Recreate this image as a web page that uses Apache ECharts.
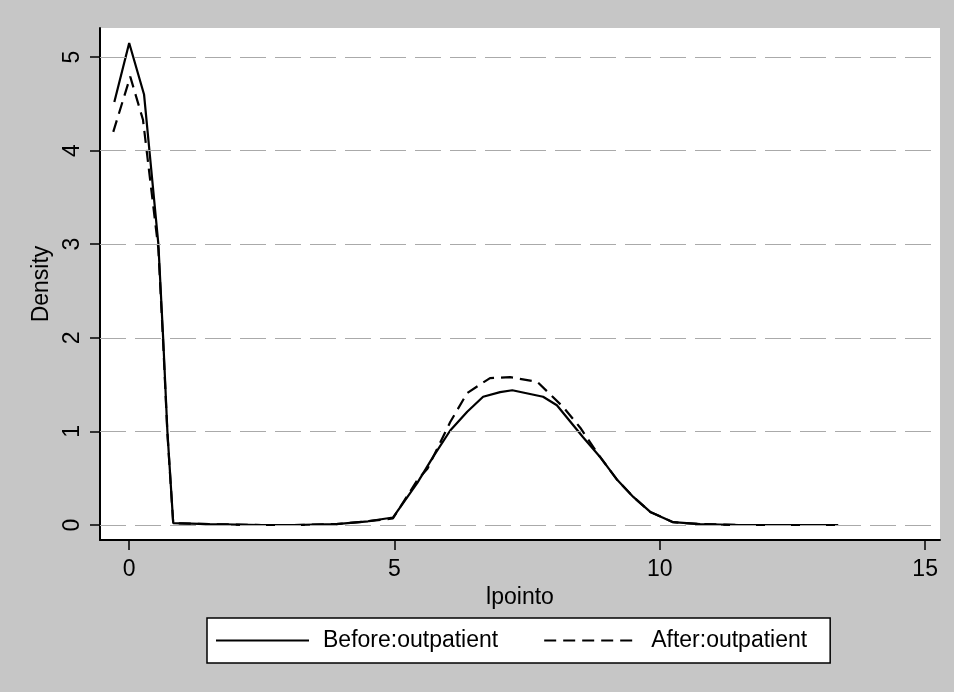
<!DOCTYPE html>
<html>
<head>
<meta charset="utf-8">
<script src="https://cdn.jsdelivr.net/npm/echarts@6/dist/echarts.min.js"></script>
<style>
  html, body { margin: 0; padding: 0; background: #c6c6c6; }
  #chart { width: 954px; height: 692px; }
</style>
</head>
<body>
<div id="chart"></div>
<script>
// density estimates (x = lpointo, y = density)
const beforeX = [-0.28, 0, 0.28, 0.55, 0.64, 0.72, 0.83, 1.5, 2.5, 3.1, 3.9, 4.5, 4.97, 5.43, 5.73, 6.05, 6.37, 6.67, 6.99, 7.22, 7.8, 8.06, 8.55, 8.87, 9.2, 9.5, 9.82, 10.25, 10.76, 11.5, 12.5, 13.36]
const beforeY = [4.52, 5.15, 4.6, 3.0, 2.0, 1.0, 0.02, 0.01, 0.0, 0.0, 0.01, 0.04, 0.08, 0.45, 0.73, 1.01, 1.21, 1.37, 1.42, 1.44, 1.37, 1.28, 0.94, 0.73, 0.48, 0.3, 0.14, 0.03, 0.01, 0.0, 0.0, 0.0]
const afterX = [-0.3, 0.02, 0.26, 0.55, 0.64, 0.72, 0.83, 1.5, 2.5, 3.1, 3.9, 4.5, 4.97, 5.43, 5.62, 6.05, 6.37, 6.8, 7.18, 7.69, 8.18, 8.5, 8.87, 9.2, 9.5, 9.82, 10.25, 10.76, 11.5, 12.5, 13.36]
const afterY = [4.2, 4.79, 4.33, 2.95, 1.95, 0.98, 0.02, 0.01, 0.0, 0.0, 0.01, 0.04, 0.07, 0.48, 0.6, 1.1, 1.41, 1.57, 1.58, 1.53, 1.26, 1.04, 0.73, 0.48, 0.3, 0.14, 0.03, 0.01, 0.0, 0.0, 0.0]

const xTicks = [0, 5, 10, 15]
const yTicks = [0, 1, 2, 3, 4, 5]
const seriesNames = ['Before:outpatient', 'After:outpatient']

const font = 'Liberation Sans, Arial, sans-serif'
const chart = echarts.init(document.getElementById('chart'))

const pairs = (xs, ys) => xs.map((x, i) => [x, ys[i]])

chart.setOption({
  backgroundColor: '#c6c6c6',
  animation: false,
  textStyle: { fontFamily: font, color: '#000' },
  grid: {
    left: 100, top: 28, right: 14, bottom: 152,
    show: true, backgroundColor: '#fff', borderWidth: 0
  },
  legend: {
    data: seriesNames,
    left: 207, top: 618,
    padding: [11, 23, 11, 8],
    itemWidth: 93, itemHeight: 14, itemGap: 45,
    backgroundColor: '#fff',
    borderColor: '#000', borderWidth: 1.5,
    itemStyle: { opacity: 0 },
    textStyle: { fontFamily: font, fontSize: 23, color: '#000', padding: [0, 0, 0, 9] }
  },
  xAxis: {
    type: 'value',
    min: -0.55, max: 15.28,
    name: 'lpointo',
    nameLocation: 'middle',
    nameGap: 40,
    nameTextStyle: { fontFamily: font, fontSize: 23, color: '#000' },
    axisLine: { onZero: false, lineStyle: { color: '#000', width: 2 } },
    axisTick: { customValues: xTicks, length: 10, lineStyle: { color: '#000', width: 1.5 } },
    axisLabel: { customValues: xTicks, margin: 18, fontSize: 23, color: '#000', fontFamily: font },
    splitLine: { show: false }
  },
  yAxis: {
    type: 'value',
    min: -0.16, max: 5.31,
    name: 'Density',
    nameLocation: 'middle',
    nameRotate: 90,
    nameGap: 38,
    nameTextStyle: { fontFamily: font, fontSize: 23, color: '#000' },
    axisLine: { show: true, onZero: false, lineStyle: { color: '#000', width: 2 } },
    axisTick: { show: true, customValues: yTicks, length: 10, lineStyle: { color: '#000', width: 1.5 } },
    axisLabel: { customValues: yTicks, rotate: 90, margin: 16, fontSize: 23, color: '#000', fontFamily: font },
    splitLine: { show: false }
  },
  series: [
    {
      name: seriesNames[0],
      type: 'line',
      data: pairs(beforeX, beforeY),
      symbol: 'none',
      z: 3,
      lineStyle: { color: '#000', width: 2.2 },
      itemStyle: { color: '#000' },
      markLine: {
        silent: true,
        symbol: 'none',
        label: { show: false },
        lineStyle: { color: '#aaa', width: 1, type: [26, 9] },
        data: yTicks.map(v => ({ yAxis: v }))
      }
    },
    {
      name: seriesNames[1],
      type: 'line',
      data: pairs(afterX, afterY),
      symbol: 'none',
      z: 3,
      lineStyle: { color: '#000', width: 2.2, type: [12, 7] },
      itemStyle: { color: '#000' }
    }
  ]
})
</script>
</body>
</html>
